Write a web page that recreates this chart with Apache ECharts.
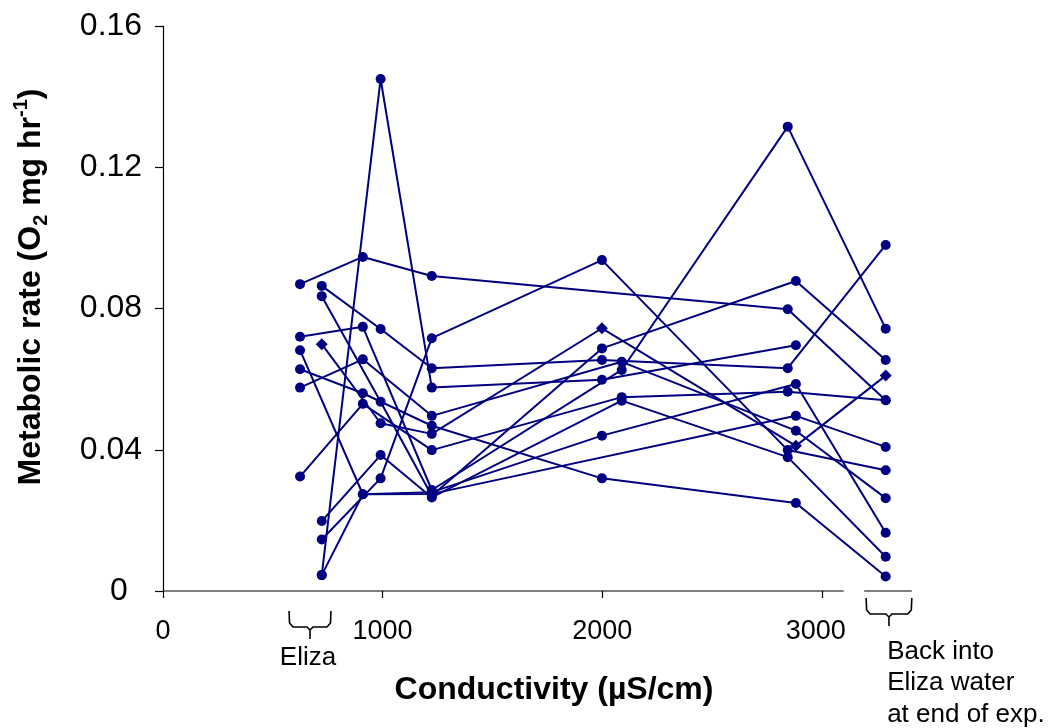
<!DOCTYPE html>
<html>
<head>
<meta charset="utf-8">
<script src="https://cdn.jsdelivr.net/npm/echarts@6/dist/echarts.min.js"></script>
<style>
  html, body { margin: 0; padding: 0; background: #fff; }
  #chart { width: 1049px; height: 728px; }
</style>
</head>
<body>
<div id="chart"></div>
<script>
// Conductivity (µS/cm) and metabolic rate (O2 mg/hr) for each animal, in measurement order
const cond01 = [624, 910, 1224, 2845, 3291];
const rate01 = [0.0869, 0.0946, 0.0892, 0.0798, 0.0540];
const cond02 = [723, 991, 1224, 1999, 2882, 3291];
const rate02 = [0.0699, 0.0475, 0.0445, 0.0744, 0.0411, 0.0610];
const cond03 = [723, 991, 1224, 1999, 2845, 3291];
const rate03 = [0.0864, 0.0742, 0.0631, 0.0654, 0.0631, 0.0980];
const cond04 = [723, 991, 1224, 1999, 2882];
const rate04 = [0.0045, 0.1450, 0.0576, 0.0598, 0.0696];
const cond05 = [624, 910, 1224, 2089, 2845, 3291];
const rate05 = [0.0720, 0.0748, 0.0286, 0.0626, 0.1315, 0.0743];
const cond06 = [624, 910, 1224, 1999, 2882, 3291];
const rate06 = [0.0682, 0.0274, 0.0280, 0.0440, 0.0586, 0.0165];
const cond07 = [624, 910, 1224, 2089, 2882, 3291];
const rate07 = [0.0576, 0.0656, 0.0496, 0.0649, 0.0454, 0.0263];
const cond08 = [723, 991, 1224, 1999, 2882, 3291];
const rate08 = [0.0835, 0.0536, 0.0270, 0.0687, 0.0878, 0.0654];
const cond09 = [624, 910, 1224, 2089, 2845, 3291];
const rate09 = [0.0324, 0.0530, 0.0399, 0.0549, 0.0564, 0.0540];
const cond10 = [624, 910, 1224, 1999, 2882, 3291];
const rate10 = [0.0628, 0.0560, 0.0468, 0.0319, 0.0249, 0.0041];
const cond11 = [723, 991, 1224, 2089, 2845, 3291];
const rate11 = [0.0198, 0.0385, 0.0265, 0.0539, 0.0379, 0.0097];
const cond12 = [723, 991, 1224, 1999, 2845, 3291];
const rate12 = [0.0146, 0.0319, 0.0716, 0.0937, 0.0399, 0.0342];
const cond13 = [723, 910, 1224, 2882, 3291];
const rate13 = [0.0045, 0.0274, 0.0275, 0.0496, 0.0408];

// Axis ticks
const xTicks = [0, 1000, 2000, 3000];
const yTicks = [0, 0.04, 0.08, 0.12, 0.16];

// Marker shapes per animal (one animal drawn with diamonds at most of its points)
const animals = [
  { cond: cond01, rate: rate01 },
  { cond: cond02, rate: rate02, marks: ['diamond', 'circle', 'circle', 'diamond', 'diamond', 'diamond'] },
  { cond: cond03, rate: rate03 },
  { cond: cond04, rate: rate04 },
  { cond: cond05, rate: rate05 },
  { cond: cond06, rate: rate06 },
  { cond: cond07, rate: rate07 },
  { cond: cond08, rate: rate08 },
  { cond: cond09, rate: rate09 },
  { cond: cond10, rate: rate10 },
  { cond: cond11, rate: rate11 },
  { cond: cond12, rate: rate12 },
  { cond: cond13, rate: rate13 }
];

const NAVY = '#000080';
const FONT = '"Liberation Sans", Arial, Helvetica, sans-serif';

const chart = echarts.init(document.getElementById('chart'), null, { renderer: 'canvas' });

const series = animals.map(a => ({
  type: 'line',
  data: a.cond.map((c, i) => {
    const shape = a.marks ? a.marks[i] : 'circle';
    return { value: [c, a.rate[i]], symbol: shape, symbolSize: shape === 'diamond' ? 12 : 10 };
  }),
  symbol: 'circle',
  symbolSize: 10,
  showSymbol: true,
  itemStyle: { color: NAVY },
  lineStyle: { color: NAVY, width: 2 },
  emphasis: { disabled: true },
  animation: false
}));

chart.setOption({
  animation: false,
  backgroundColor: '#fff',
  grid: { left: 163, top: 26, right: 135, bottom: 137, containLabel: false },
  xAxis: {
    type: 'value',
    min: 0,
    max: 3420,
    interval: 1000,
    axisLine: { show: false },
    axisTick: { show: true, length: 7, inside: false, customValues: xTicks, lineStyle: { color: '#000', width: 1.2 } },
    axisLabel: {
      customValues: xTicks,
      color: '#000', fontSize: 27, fontFamily: FONT, margin: 27,
      formatter: v => (v === 3000 ? '{s|3000}' : String(v)),
      rich: { s: { fontSize: 27, fontFamily: FONT, color: '#000', padding: [0, 12, 0, 0] } }
    },
    splitLine: { show: false }
  },
  yAxis: {
    type: 'value',
    min: 0,
    max: 0.16,
    interval: 0.04,
    axisLine: { show: true, lineStyle: { color: '#000', width: 1.2 } },
    axisTick: { show: true, length: 8, inside: false, customValues: yTicks, lineStyle: { color: '#000', width: 1.2 } },
    axisLabel: {
      customValues: yTicks,
      color: '#000', fontSize: 32, fontFamily: FONT, margin: 52, align: 'center',
      formatter: v => (v === 0 ? '{z|0}' : v.toFixed(2)),
      rich: { z: { fontSize: 32, fontFamily: FONT, color: '#000', padding: [0, 0, 0, 16] } }
    },
    splitLine: { show: false }
  },
  series: series
});

// Annotations placed from data coordinates
function px(x, y) { return chart.convertToPixel({ xAxisIndex: 0, yAxisIndex: 0 }, [x, y]); }

function brace(x0, x1, top) {
  const xm = (x0 + x1) / 2;
  const h = 16;
  const pts = [
    [x0, top], [x0 + 0.5, top + h - 4], [x0 + 4, top + h],
    [xm - 3, top + h], [xm, top + h + 3], [xm, top + h + 12]
  ];
  const pts2 = [
    [x1, top], [x1 - 0.5, top + h - 4], [x1 - 4, top + h],
    [xm + 3, top + h], [xm, top + h + 3]
  ];
  return [
    { type: 'polyline', shape: { points: pts }, style: { stroke: '#000', lineWidth: 1.6, fill: null }, silent: true },
    { type: 'polyline', shape: { points: pts2 }, style: { stroke: '#000', lineWidth: 1.6, fill: null }, silent: true }
  ];
}

const origin = px(0, 0);
const base = origin[1];
const axisEnd = px(3100, 0)[0];
const elizaL = px(574, 0)[0], elizaR = px(765, 0)[0];
const backL = px(3202, 0)[0], backR = px(3410, 0)[0];

const graphics = [
  // conductivity axis, then the short segment under the return-to-Eliza measurements
  { type: 'line', shape: { x1: origin[0], y1: base, x2: axisEnd, y2: base }, style: { stroke: '#000', lineWidth: 1.2 }, silent: true },
  { type: 'line', shape: { x1: backL - 2, y1: base, x2: backR, y2: base }, style: { stroke: '#000', lineWidth: 1.2 }, silent: true },
  ...brace(elizaL, elizaR, base + 20),
  ...brace(backL, backR, base + 7),
  {
    type: 'text', x: (elizaL + elizaR) / 2 - 2, y: base + 67, silent: true,
    style: { text: 'Eliza', fontSize: 26, fontFamily: FONT, fill: '#000', align: 'center', verticalAlign: 'middle' }
  },
  {
    type: 'text', x: backL + 21, y: base + 92, silent: true,
    style: {
      text: 'Back into\nEliza water\nat end of exp.', fontSize: 26, lineHeight: 31.5,
      fontFamily: FONT, fill: '#000', align: 'left', verticalAlign: 'middle'
    }
  },
  {
    type: 'text', x: 554, y: 690, silent: true,
    style: {
      text: 'Conductivity (µS/cm)', fontSize: 32, fontWeight: 'bold',
      fontFamily: FONT, fill: '#000', align: 'center', verticalAlign: 'middle'
    }
  },
  {
    type: 'text', x: 31, y: 287, rotation: Math.PI / 2, silent: true,
    style: {
      text: '{b|Metabolic rate (O}{s|2}{b| mg hr}{p|-1}{b|)}',
      align: 'center', verticalAlign: 'middle', fill: '#000',
      rich: {
        b: { fontSize: 32, fontWeight: 'bold', fontFamily: FONT, lineHeight: 40, verticalAlign: 'middle' },
        s: { fontSize: 20, fontWeight: 'bold', fontFamily: FONT, lineHeight: 40, verticalAlign: 'bottom' },
        p: { fontSize: 20, fontWeight: 'bold', fontFamily: FONT, lineHeight: 40, verticalAlign: 'top' }
      }
    }
  }
];

chart.setOption({ graphic: graphics });
</script>
</body>
</html>
